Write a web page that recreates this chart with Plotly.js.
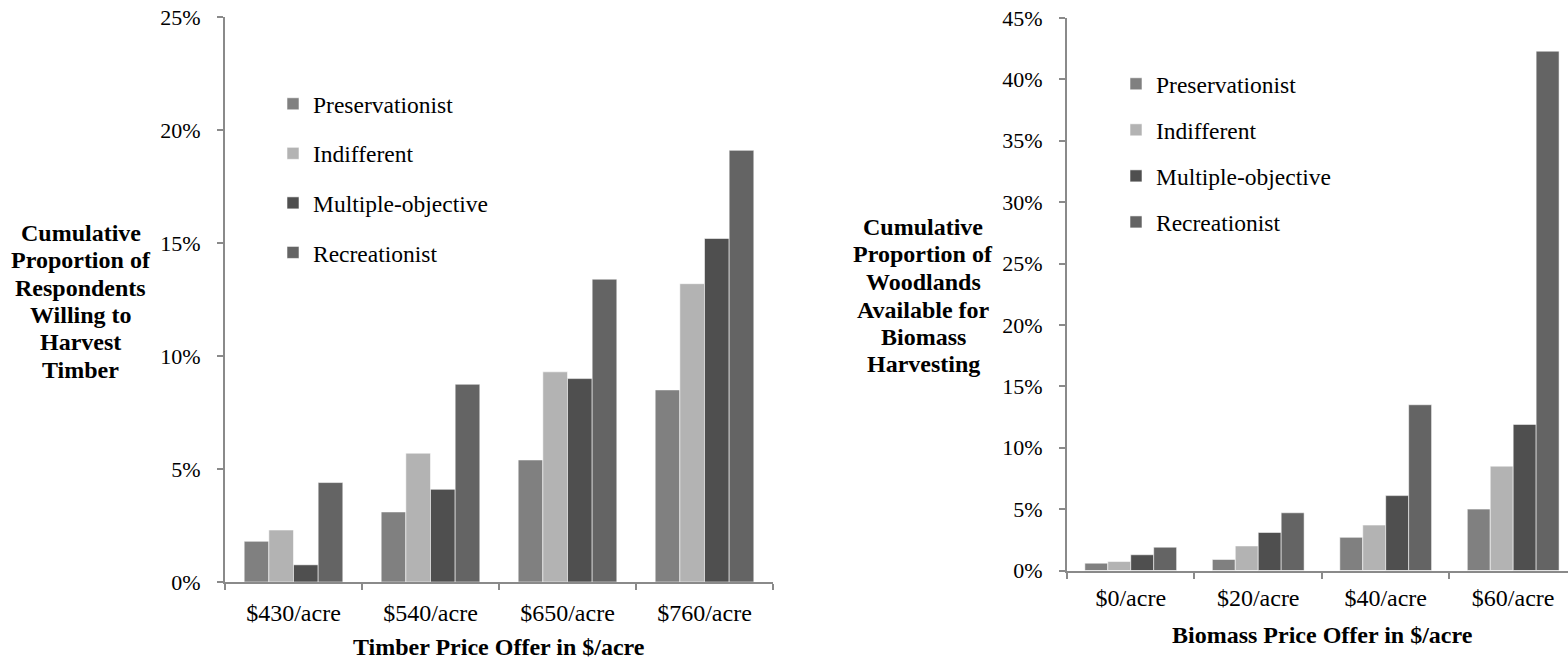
<!DOCTYPE html>
<html>
<head>
<meta charset="utf-8">
<script src="https://cdn.plot.ly/plotly-3.0.1.min.js"></script>
<style>
html,body{margin:0;padding:0;background:#ffffff;}
#chart{width:1568px;height:659px;}
</style>
</head>
<body>
<div id="chart"></div>
<script>
// ---- data ----
const timberCategories = ['$430/acre', '$540/acre', '$650/acre', '$760/acre'];
const biomassCategories = ['$0/acre', '$20/acre', '$40/acre', '$60/acre'];
const seriesNames = ['Preservationist', 'Indifferent', 'Multiple-objective', 'Recreationist'];

const timberPreservationist = [0.018, 0.031, 0.054, 0.085];
const timberIndifferent     = [0.023, 0.057, 0.093, 0.132];
const timberMultiple        = [0.0076, 0.041, 0.090, 0.152];
const timberRecreationist   = [0.044, 0.0875, 0.134, 0.191];

const biomassPreservationist = [0.006, 0.009, 0.027, 0.050];
const biomassIndifferent     = [0.0073, 0.020, 0.037, 0.085];
const biomassMultiple        = [0.0128, 0.031, 0.061, 0.119];
const biomassRecreationist   = [0.019, 0.047, 0.135, 0.423];

const timberTitleYLines = ['Cumulative', 'Proportion of', 'Respondents', 'Willing to', 'Harvest', 'Timber'];
const biomassTitleYLines = ['Cumulative', 'Proportion of', 'Woodlands', 'Available for', 'Biomass', 'Harvesting'];
const timberTitleX = 'Timber Price Offer in $/acre';
const biomassTitleX = 'Biomass Price Offer in $/acre';

// ---- styles ----
const colors = ['#808080', '#b3b3b3', '#4f4f4f', '#646464'];
const W = 1568, H = 659;
const axisColor = '#8a8a8a';
const fontFamily = '"Liberation Serif", "Times New Roman", Times, serif';

const timberSeries = [timberPreservationist, timberIndifferent, timberMultiple, timberRecreationist];
const biomassSeries = [biomassPreservationist, biomassIndifferent, biomassMultiple, biomassRecreationist];

const traces = [];
timberSeries.forEach((vals, i) => {
  traces.push({
    type: 'bar', name: seriesNames[i], x: timberCategories, y: vals,
    xaxis: 'x', yaxis: 'y', legend: 'legend', legendgroup: 'L' + i,
    marker: {color: colors[i], line: {color: 'rgba(255,255,255,0.55)', width: 1}},
    hoverinfo: 'skip'
  });
});
biomassSeries.forEach((vals, i) => {
  traces.push({
    type: 'bar', name: seriesNames[i], x: biomassCategories, y: vals,
    xaxis: 'x2', yaxis: 'y2', legend: 'legend2', legendgroup: 'R' + i,
    marker: {color: colors[i], line: {color: 'rgba(255,255,255,0.55)', width: 1}},
    hoverinfo: 'skip'
  });
});

function xAxis(domain, anchor, range, standoff) {
  return {
    domain: domain, anchor: anchor, type: 'category', range: range,
    tickson: 'boundaries', ticks: 'outside', ticklen: 6, tickwidth: 2, tickcolor: axisColor,
    showline: true, linecolor: axisColor, linewidth: 2,
    showgrid: false, zeroline: false, ticklabelstandoff: standoff,
    tickfont: {size: 24, color: '#000'}, fixedrange: true
  };
}
function yAxis(domain, anchor, range) {
  return {
    domain: domain, anchor: anchor, range: range, dtick: 0.05, tickformat: '.0%',
    ticks: 'outside', ticklen: 6, tickwidth: 2, tickcolor: axisColor,
    showline: true, linecolor: axisColor, linewidth: 2,
    showgrid: false, zeroline: false, ticklabelstandoff: 12,
    tickfont: {size: 22, color: '#000'}, fixedrange: true
  };
}

const annotations = [];
const leftLineY = [233, 260, 288, 315, 342, 370];
const rightLineY = [227, 254, 282, 310, 337, 364];
timberTitleYLines.forEach((t, i) => annotations.push({
  text: t, xref: 'paper', yref: 'paper', x: 80.5 / W, y: (H - leftLineY[i]) / H,
  xanchor: 'center', yanchor: 'middle', showarrow: false,
  font: {size: 24, color: '#000', weight: 'bold'}
}));
biomassTitleYLines.forEach((t, i) => annotations.push({
  text: t, xref: 'paper', yref: 'paper', x: 923 / W, y: (H - rightLineY[i]) / H,
  xanchor: 'center', yanchor: 'middle', showarrow: false,
  font: {size: 24, color: '#000', weight: 'bold'}
}));
annotations.push({text: timberTitleX, xref: 'paper', yref: 'paper', x: 499 / W, y: (H - 647) / H,
  xanchor: 'center', yanchor: 'middle', showarrow: false,
  font: {size: 24, color: '#000', weight: 'bold'}});
annotations.push({text: biomassTitleX, xref: 'paper', yref: 'paper', x: 1322 / W, y: (H - 635) / H,
  xanchor: 'center', yanchor: 'middle', showarrow: false,
  font: {size: 24, color: '#000', weight: 'bold'}});

const layout = {
  width: W, height: H,
  margin: {l: 0, r: 0, t: 0, b: 0},
  paper_bgcolor: '#ffffff', plot_bgcolor: '#ffffff',
  font: {family: fontFamily, size: 22, color: '#000'},
  barmode: 'group', bargap: 0.28, bargroupgap: 0,
  showlegend: true,
  xaxis: xAxis([225 / W, 773 / W], 'y', [-0.5, 3.5], 8),
  yaxis: yAxis([77 / H, 642 / H], 'x', [0, 0.25]),
  xaxis2: xAxis([1067 / W, 1], 'y2', [-0.5, 3.43], 5),
  yaxis2: yAxis([88.5 / H, 641 / H], 'x2', [0, 0.45]),
  legend: {
    x: 273 / W, xanchor: 'left', y: (H - 82) / H, yanchor: 'top',
    bgcolor: 'rgba(0,0,0,0)', borderwidth: 0, traceorder: 'grouped', tracegroupgap: 16,
    font: {size: 23.5, color: '#000'}, itemclick: false, itemdoubleclick: false
  },
  legend2: {
    x: 1116 / W, xanchor: 'left', y: (H - 62) / H, yanchor: 'top',
    bgcolor: 'rgba(0,0,0,0)', borderwidth: 0, traceorder: 'grouped', tracegroupgap: 12.5,
    font: {size: 23.5, color: '#000'}, itemclick: false, itemdoubleclick: false
  },
  annotations: annotations
};

Plotly.newPlot('chart', traces, layout, {staticPlot: true, displayModeBar: false});
</script>
</body>
</html>
